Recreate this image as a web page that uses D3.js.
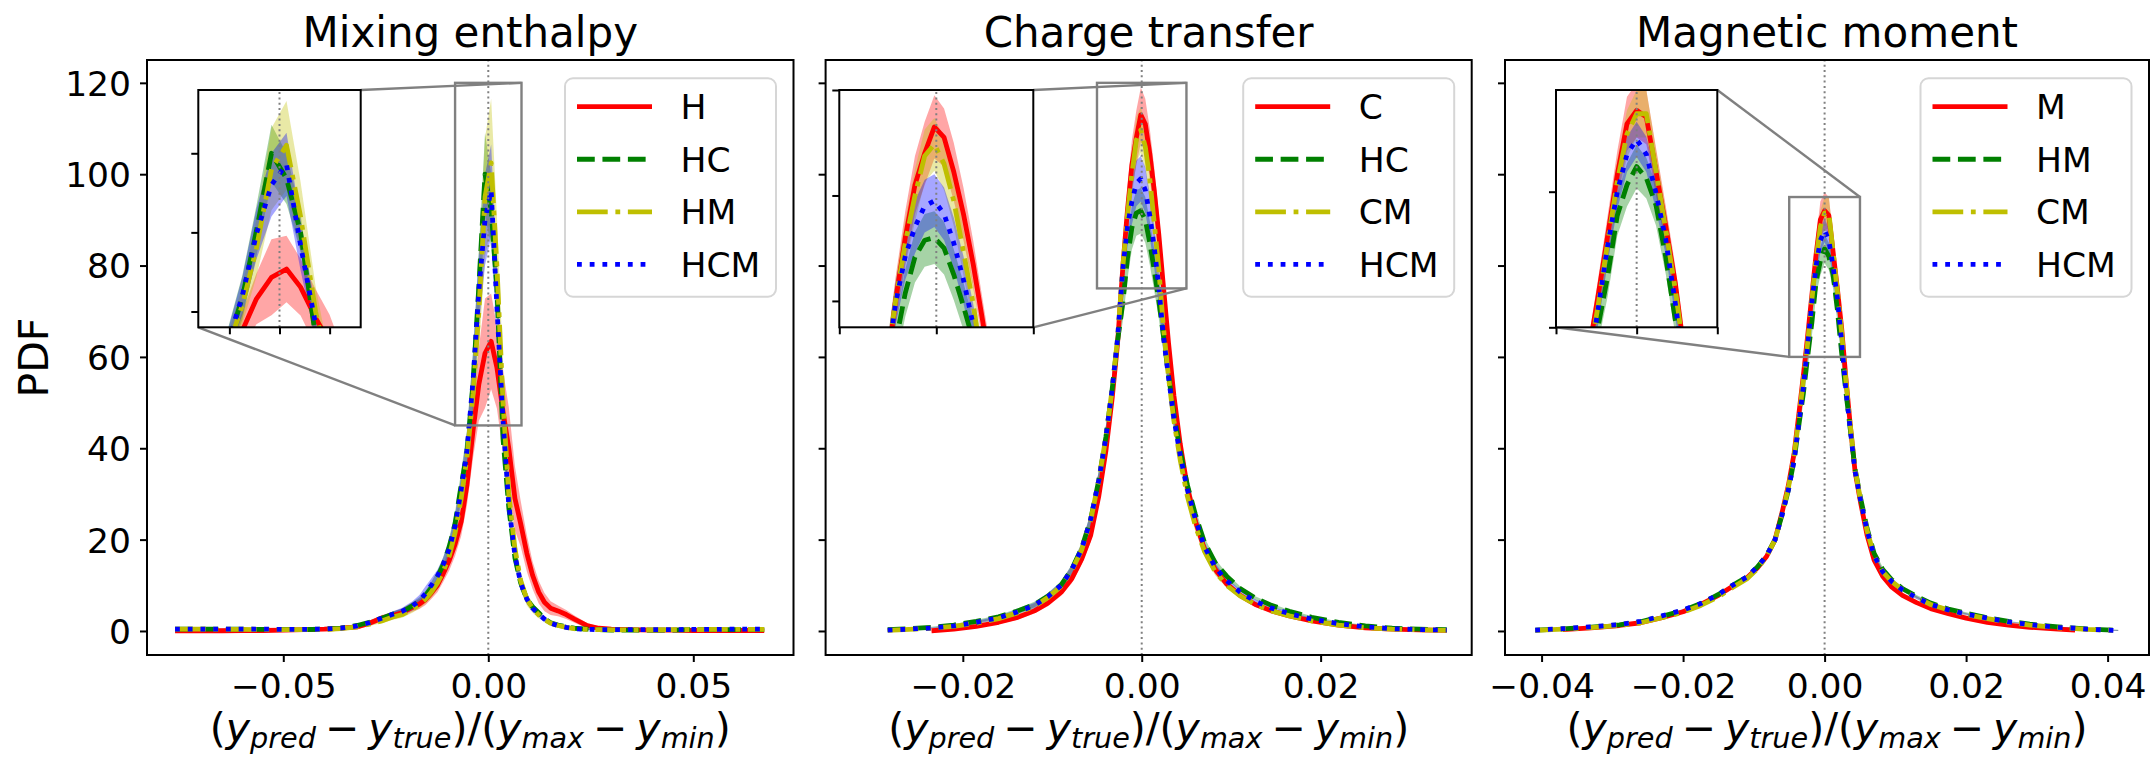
<!DOCTYPE html>
<html><head><meta charset="utf-8">
<script src="https://cdn.jsdelivr.net/npm/d3@7"></script>
<style>
body{margin:0;background:#fff}
svg{display:block}
text{font-family:"DejaVu Sans",sans-serif;fill:#000}
</style></head>
<body><svg id="c" width="2151" height="757"></svg>
<script>
// ---------------- data ----------------
const titles = ["Mixing enthalpy", "Charge transfer", "Magnetic moment"];
const legend_enth = ["H", "HC", "HM", "HCM"];
const legend_chg = ["C", "HC", "CM", "HCM"];
const legend_mag = ["M", "HM", "CM", "HCM"];
const yTicks = [0, 20, 40, 60, 80, 100, 120];
const xticks_enth = [-0.05, 0, 0.05];
const xticks_chg = [-0.02, 0, 0.02];
const xticks_mag = [-0.04, -0.02, 0, 0.02, 0.04];

// Mixing enthalpy
const x_enth = [-0.0764,-0.070,-0.065,-0.060,-0.055,-0.050,-0.045,-0.040,-0.036,-0.032,-0.029,-0.026,-0.0235,-0.021,-0.0185,-0.0168,-0.0153,-0.0139,-0.0124,-0.0110,-0.0095,-0.0081,-0.0066,-0.0052,-0.0037,-0.0023,-0.0008,0.0007,0.0021,0.0036,0.0050,0.0065,0.0079,0.0094,0.0108,0.0123,0.0137,0.0152,0.0170,0.019,0.021,0.024,0.027,0.030,0.034,0.040,0.045,0.050,0.055,0.060,0.0673];
const enth_H = [0.0,0.05,0.05,0.1,0.1,0.2,0.3,0.4,0.6,0.9,1.7,2.8,3.3,4.0,5.2,5.9,6.9,8.3,10,12.5,15.5,19,24,32,44,54,60.8,63.4,57.7,48,40,29,23.5,17,12.2,8.5,6.3,5.0,4.4,3.6,2.6,1.2,0.6,0.4,0.3,0.2,0.2,0.1,0.1,0.1,0.1];
const enth_H_sd = [0.1,0.1,0.1,0.1,0.1,0.15,0.2,0.3,0.4,0.5,0.6,0.7,0.8,0.9,1.0,1.1,1.2,1.3,1.5,1.8,2.2,2.6,3.2,4.5,6,8,12,10.5,9,9,9,7,5,4,3,2.5,2,1.5,1.2,1,0.8,0.6,0.4,0.3,0.2,0.1,0.1,0.1,0.1,0.1,0.1];
const enth_HC = [0.4,0.4,0.4,0.4,0.35,0.35,0.3,0.4,0.6,1.2,1.9,2.8,3.6,4.2,5.5,6.5,7.8,9.5,11.8,14.5,18.5,23.5,32,39,54.5,75.5,100,92,75,42,27,16,10.5,7,5.3,4.0,2.7,1.8,1.3,0.9,0.6,0.4,0.3,0.2,0.2,0.2,0.2,0.3,0.3,0.3,0.3];
const enth_HC_sd = [0.1,0.1,0.1,0.1,0.1,0.1,0.1,0.15,0.2,0.3,0.4,0.5,0.6,0.7,0.8,0.9,1.0,1.2,1.4,1.6,2.0,2.5,3,5,7,8,9,8,6,4,3,2.2,1.5,1,0.8,0.6,0.5,0.4,0.3,0.2,0.2,0.15,0.1,0.1,0.1,0.1,0.1,0.1,0.1,0.1,0.1];
const enth_HM = [0.4,0.4,0.35,0.35,0.3,0.3,0.3,0.3,0.5,0.9,1.5,2.2,3.0,3.6,4.8,5.8,7.0,8.5,10.5,13,16.5,21.5,29,38,52,70,95,102.5,80,50,30,18,11,7,5,3.5,2.5,1.7,1.2,0.8,0.5,0.35,0.3,0.25,0.25,0.25,0.3,0.3,0.35,0.35,0.35];
const enth_HM_sd = [0.1,0.1,0.1,0.1,0.1,0.1,0.1,0.15,0.2,0.3,0.4,0.5,0.6,0.7,0.8,0.9,1.0,1.2,1.4,1.6,2.0,2.5,3,4,6,9,13,14,11,8,5,3,2,1.4,1,0.7,0.5,0.4,0.3,0.2,0.2,0.15,0.1,0.1,0.1,0.1,0.1,0.1,0.1,0.1,0.1];
const enth_HCM = [0.4,0.4,0.4,0.4,0.4,0.35,0.35,0.4,0.6,1.1,1.8,2.8,3.6,4.3,5.5,6.6,8.2,10,12,14.5,18,23,31,39.5,55,74.5,90,96.5,71,46,27.5,16.5,10.5,7,5,3.7,2.6,1.7,1.2,0.8,0.5,0.35,0.3,0.3,0.3,0.3,0.3,0.35,0.35,0.4,0.4];
const enth_HCM_sd = [0.1,0.1,0.1,0.1,0.1,0.1,0.1,0.15,0.2,0.3,0.4,0.5,0.6,0.8,1.0,1.3,1.6,1.5,1.4,1.6,2.0,2.5,3,4,6,8,10,10,8,5,3,2,1.5,1,0.8,0.6,0.5,0.4,0.3,0.2,0.2,0.15,0.1,0.1,0.1,0.1,0.1,0.1,0.1,0.1,0.1];

// Charge transfer
const x_chg = [-0.0284,-0.026,-0.0235,-0.021,-0.0185,-0.016,-0.014,-0.012,-0.0105,-0.009,-0.0078,-0.0067,-0.0057,-0.0048,-0.0040,-0.0033,-0.0027,-0.0021,-0.0016,-0.0011,-0.0006,-0.0001,0.0004,0.0009,0.0014,0.0019,0.0024,0.0030,0.0036,0.0043,0.0051,0.006,0.007,0.0082,0.0095,0.011,0.0127,0.0145,0.0165,0.019,0.022,0.025,0.028,0.031,0.0341];
const chg_C = [null,null,0.05,0.4,1.0,1.9,2.9,4.4,6.1,8.5,11.5,15.8,21,29.5,39.5,51,63,80,92,102,108,113,111,104.5,96.5,87,76,63,51.5,41,31.5,24,18,13.5,10.3,7.8,5.8,4.4,3.3,2.2,1.3,0.7,0.4,0.25,0.15];
const chg_C_sd = [0,0,0.1,0.2,0.3,0.4,0.5,0.6,0.7,0.8,1.0,1.2,1.5,2,2.5,3,3.5,4.5,5,5.5,6,6,5.5,5.5,5,4.5,4,3.5,3,2.5,2,1.6,1.2,1,0.8,0.6,0.5,0.4,0.3,0.3,0.2,0.2,0.1,0.1,0.1];
const chg_HC = [0.3,0.5,0.8,1.3,2.1,3.1,4.3,5.8,7.6,10.1,13.6,18.2,24.5,33,42.5,53,63.5,72,81.5,88.3,91.5,92,90,85,79,72.5,65,56,47.5,39.5,32,25.5,19.5,15,12,9.3,7.2,5.6,4.3,3.0,1.9,1.1,0.6,0.4,0.3];
const chg_HC_sd = [0.1,0.1,0.1,0.2,0.3,0.4,0.5,0.6,0.7,0.8,1.0,1.2,1.5,2,2.5,3,3.5,4,4.5,4.8,5,5,5,4.8,4.5,4,3.5,3,2.5,2,1.6,1.3,1,0.8,0.6,0.5,0.4,0.4,0.3,0.3,0.2,0.2,0.1,0.1,0.1];
const chg_CM = [0.15,0.35,0.6,1.0,1.7,2.7,3.9,5.4,7.3,9.8,13.3,17.8,24.3,33,42.5,53,64,80,91,100,107.5,109.7,106,99,89.3,79.5,67,55.5,46,37.5,29.5,23,17.5,13,10,7.7,5.8,4.4,3.3,2.2,1.3,0.7,0.4,0.25,0.15];
const chg_CM_sd = [0.1,0.1,0.1,0.2,0.3,0.4,0.5,0.6,0.7,0.8,1.0,1.2,1.5,2,2.5,3,3.5,4,4.5,5,5,5,5,4.8,4.5,4,3.5,3,2.5,2,1.6,1.3,1,0.8,0.6,0.5,0.4,0.4,0.3,0.3,0.2,0.2,0.1,0.1,0.1];
const chg_HCM = [0.2,0.4,0.65,1.1,1.9,2.9,4.1,5.6,7.5,10,13.5,18,24.5,33,42.5,53,64,79.5,88.5,94,98,99,96.5,91,84,75.5,65,55.5,46.5,38.5,31,24.5,18.5,14,11,8.5,6.5,5.0,3.8,2.6,1.6,0.9,0.5,0.3,0.2];
const chg_HCM_sd = [0.1,0.1,0.1,0.2,0.3,0.4,0.5,0.6,0.7,0.8,1.0,1.2,1.5,2,2.5,3,3.5,4,4.5,5,5,5,5,4.8,4.5,4,3.5,3,2.5,2,1.6,1.3,1,0.8,0.6,0.5,0.4,0.4,0.3,0.3,0.2,0.2,0.1,0.1,0.1];

// Magnetic moment
const x_mag = [-0.0409,-0.037,-0.033,-0.029,-0.026,-0.023,-0.020,-0.0175,-0.015,-0.013,-0.011,-0.0095,-0.0082,-0.007,-0.006,-0.0051,-0.0043,-0.0036,-0.0030,-0.0024,-0.0018,-0.0012,-0.0006,0.0000,0.0006,0.0012,0.0018,0.0024,0.0030,0.0036,0.0043,0.0051,0.006,0.007,0.0082,0.0095,0.011,0.013,0.015,0.0175,0.020,0.023,0.026,0.029,0.033,0.0354,0.037,0.0415];
const mag_M = [null,0.3,0.7,1.2,1.8,2.9,4.2,5.8,7.8,9.8,11.6,13.8,16.3,20,26,32,39,48,56,64.5,73.5,82.5,90,92,91,83,75,66.5,55.5,45.5,35,28,21,15.5,12,9.6,7.8,6.2,4.9,3.8,2.8,1.9,1.3,0.8,0.4,0.2,null,null];
const mag_M_sd = [0,0.1,0.1,0.1,0.1,0.15,0.2,0.2,0.25,0.3,0.35,0.4,0.5,0.6,0.8,1,1.2,1.5,2,2.5,3,3.5,4,4,4,3.5,3,2.5,2,1.5,1.2,1,0.8,0.6,0.5,0.4,0.35,0.3,0.25,0.2,0.2,0.15,0.1,0.1,0.1,0.1,0,0];
const mag_HM = [0.2,0.45,0.85,1.35,2.0,3.2,4.5,6.0,8.0,10.0,11.8,14.0,16.5,20,25.5,31,37.5,45.5,52,60,67.5,76.5,81,83.7,82,78,70.4,61,52.5,44.5,35.5,29,22.5,17,13.5,11.2,9.3,7.6,6.1,4.8,3.9,2.9,2.1,1.5,0.9,0.6,0.45,0.15];
const mag_HM_sd = [0.1,0.1,0.1,0.1,0.1,0.15,0.2,0.2,0.25,0.3,0.35,0.4,0.5,0.6,0.8,1,1.2,1.5,2,2.5,3,3,3.2,3.2,3,3,2.5,2.2,2,1.5,1.2,1,0.8,0.6,0.5,0.4,0.35,0.3,0.25,0.2,0.2,0.15,0.1,0.1,0.1,0.1,0.1,0.1];
const mag_CM = [0.15,0.4,0.75,1.2,1.8,2.9,4.1,5.6,7.5,9.5,11.4,13.6,16.3,20,25.5,31.5,38.5,47,55,63,72.5,81.5,88.5,91.5,91.5,83,74.5,65.5,55,45.5,35.5,28.5,22,16.5,13,10.8,9,7.3,5.8,4.6,3.6,2.7,1.9,1.3,0.7,0.5,0.35,0.1];
const mag_CM_sd = [0.1,0.1,0.1,0.1,0.1,0.15,0.2,0.2,0.25,0.3,0.35,0.4,0.5,0.6,0.8,1,1.2,1.5,2,2.5,3,3.2,3.5,3.5,3.5,3.2,3,2.5,2,1.5,1.2,1,0.8,0.6,0.5,0.4,0.35,0.3,0.25,0.2,0.2,0.15,0.1,0.1,0.1,0.1,0.1,0.1];
const mag_HCM = [0.2,0.5,0.9,1.4,2.1,3.3,4.6,6.0,8.0,10.0,11.8,14.0,16.5,20,25.5,31,37.5,46,53.5,62.5,72,80,85.5,87.7,85.5,79.8,73,63.5,53,44.5,35,28.5,22,16.5,13,10.8,9,7.3,5.8,4.6,3.7,2.8,2.0,1.4,0.8,0.6,0.4,0.1];
const mag_HCM_sd = [0.1,0.1,0.1,0.1,0.1,0.15,0.2,0.2,0.25,0.3,0.35,0.4,0.5,0.6,0.8,1,1.2,1.5,2,2.3,2.5,2.6,2.6,2.6,2.6,2.5,2.3,2,1.8,1.5,1.2,1,0.8,0.6,0.5,0.4,0.35,0.3,0.25,0.2,0.2,0.15,0.1,0.1,0.1,0.1,0.1,0.1];

// inset (zoom) windows
const inset_enth_x = [-0.0081, 0.0081], inset_enth_y = [45, 120];
const inset_chg_x = [-0.005, 0.005], inset_chg_y = [75, 120];
const inset_mag_x = [-0.005, 0.005], inset_mag_y = [60, 95];
const inset_enth_yticks = [50, 75, 100];
const inset_chg_yticks = [80, 100, 120];
const inset_mag_yticks = [60, 80];
const inset_xticks = [-0.005, 0, 0.005];

// ---------------- styles / layout ----------------
const LW = 4.8;
const styles = [
  {color: "#ff0000", dash: null},
  {color: "#008000", dash: [3.7*LW, 1.6*LW].join(",")},
  {color: "#bfbf00", dash: [6.4*LW, 1.6*LW, 1*LW, 1.6*LW].join(",")},
  {color: "#0000ff", dash: [1*LW, 1.65*LW].join(",")}
];
const FILL_OP = 0.35;
const TOP = 60, BOTTOM = 655;
const YDOM = [-5.26, 125];
const TICK_FS = 34.5, LABEL_FS = 41, TITLE_FS = 42;

const panels = [
  {title: titles[0], labels: legend_enth, x: x_enth, xticks: xticks_enth,
   series: [[enth_H, enth_H_sd],[enth_HC, enth_HC_sd],[enth_HM, enth_HM_sd],[enth_HCM, enth_HCM_sd]],
   left: 147, right: 793.5, xdom: [-0.08324, 0.07444], ylabels: true,
   inset: {l: 198.3, r: 360.7, t: 90, b: 327.3, xr: inset_enth_x, yr: inset_enth_y, yt: inset_enth_yticks, conn: [["r","t"],["l","b"]]}},
  {title: titles[1], labels: legend_chg, x: x_chg, xticks: xticks_chg,
   series: [[chg_C, chg_C_sd],[chg_HC, chg_HC_sd],[chg_CM, chg_CM_sd],[chg_HCM, chg_HCM_sd]],
   left: 825.6, right: 1471.7, xdom: [-0.03534, 0.03689], ylabels: false,
   inset: {l: 839.3, r: 1033.3, t: 90, b: 327.3, xr: inset_chg_x, yr: inset_chg_y, yt: inset_chg_yticks, conn: [["r","t"],["r","b"]]}},
  {title: titles[2], labels: legend_mag, x: x_mag, xticks: xticks_mag,
   series: [[mag_M, mag_M_sd],[mag_HM, mag_HM_sd],[mag_CM, mag_CM_sd],[mag_HCM, mag_HCM_sd]],
   left: 1505, right: 2149, xdom: [-0.04517, 0.04585], ylabels: false,
   inset: {l: 1556, r: 1717.3, t: 90, b: 327.3, xr: inset_mag_x, yr: inset_mag_y, yt: inset_mag_yticks, conn: [["r","t"],["l","b"]]}}
];

const svg = d3.select("#c");
const defs = svg.append("defs");
const fmt = d3.format(".2f");

function drawData(g, xs, ys, xv, series) {
  series.forEach((s, i) => {
    const pts = xv.map((x, j) => ({x, m: s[0][j], sd: s[1][j]}));
    const area = d3.area().defined(d => d.m != null)
      .x(d => xs(d.x)).y0(d => ys(d.m - d.sd)).y1(d => ys(d.m + d.sd));
    g.append("path").attr("d", area(pts)).attr("fill", styles[i].color).attr("fill-opacity", FILL_OP);
  });
  series.forEach((s, i) => {
    const pts = xv.map((x, j) => ({x, m: s[0][j]}));
    const line = d3.line().defined(d => d.m != null).x(d => xs(d.x)).y(d => ys(d.m));
    const p = g.append("path").attr("d", line(pts)).attr("fill", "none")
      .attr("stroke", styles[i].color).attr("stroke-width", LW)
      .attr("stroke-linejoin", "round");
    if (styles[i].dash) p.attr("stroke-dasharray", styles[i].dash);
  });
  // zero line
  g.append("line").attr("x1", xs(0)).attr("x2", xs(0))
    .attr("y1", ys.range()[0]).attr("y2", ys.range()[1])
    .attr("stroke", "#808080").attr("stroke-width", 2).attr("stroke-dasharray", "2,3.3");
}

function styleTicks(sel) {
  sel.select(".domain").remove();
  sel.selectAll(".tick line").attr("stroke", "#000").attr("stroke-width", 2);
}

panels.forEach((P, pi) => {
  const xs = d3.scaleLinear().domain(P.xdom).range([P.left, P.right]);
  const ys = d3.scaleLinear().domain(YDOM).range([BOTTOM, TOP]);
  const g = svg.append("g");

  // clip
  defs.append("clipPath").attr("id", "clipm" + pi).append("rect")
    .attr("x", P.left).attr("y", TOP).attr("width", P.right - P.left).attr("height", BOTTOM - TOP);
  const gd = g.append("g").attr("clip-path", `url(#clipm${pi})`);
  drawData(gd, xs, ys, P.x, P.series);

  // axes
  const ax = d3.axisBottom(xs).tickValues(P.xticks).tickSize(7).tickFormat(d => fmt(d));
  const gx = g.append("g").attr("transform", `translate(0,${BOTTOM})`).call(ax);
  styleTicks(gx);
  gx.selectAll(".tick text").attr("y", 43).attr("dy", 0)
    .style("font-size", TICK_FS + "px").style("font-family", "DejaVu Sans");

  const ay = d3.axisLeft(ys).tickValues(yTicks).tickSize(7).tickPadding(9);
  const gy = g.append("g").attr("transform", `translate(${P.left},0)`).call(ay);
  styleTicks(gy);
  if (P.ylabels) {
    gy.selectAll(".tick text").attr("dy", "0.36em")
      .style("font-size", TICK_FS + "px").style("font-family", "DejaVu Sans");
  } else {
    gy.selectAll(".tick text").remove();
  }

  g.append("rect").attr("x", P.left).attr("y", TOP).attr("width", P.right - P.left)
    .attr("height", BOTTOM - TOP).attr("fill", "none").attr("stroke", "#000").attr("stroke-width", 2);

  // title
  g.append("text").attr("x", (P.left + P.right) / 2).attr("y", 46.7)
    .attr("text-anchor", "middle").style("font-size", TITLE_FS + "px").text(P.title);

  // x label (math style)
  const xl = g.append("text").attr("x", (P.left + P.right) / 2).attr("y", 742)
    .attr("text-anchor", "middle").style("font-size", LABEL_FS + "px");
  const parts = [["(", "n"], ["y", "i"], ["pred", "s"], ["−", "m"], ["y", "i"], ["true", "s"],
                 [")/(", "n"], ["y", "i"], ["max", "s"], ["−", "m"], ["y", "i"], ["min", "s"], [")", "n"]];
  const SUB = 6;
  let sub = false;
  parts.forEach(([t, k], idx) => {
    const ts = xl.append("tspan").text(t);
    let dy = 0;
    if (k === "s") { ts.style("font-style", "italic").style("font-size", (LABEL_FS * 0.7) + "px"); dy = SUB; sub = true; }
    else { if (sub) { dy = -SUB; sub = false; } }
    if (k === "i") ts.style("font-style", "italic");
    if (k === "m") ts.attr("dx", 9);
    if (idx > 0 && parts[idx - 1][1] === "m") ts.attr("dx", 9);
    if (dy) ts.attr("dy", dy);
  });

  // zoom rectangle + connectors
  const I = P.inset;
  const rx0 = xs(I.xr[0]), rx1 = xs(I.xr[1]), ry0 = ys(I.yr[1]), ry1 = ys(I.yr[0]);
  g.append("rect").attr("x", rx0).attr("y", ry0).attr("width", rx1 - rx0).attr("height", ry1 - ry0)
    .attr("fill", "none").attr("stroke", "#808080").attr("stroke-width", 2.4);
  I.conn.forEach(([h, v]) => {
    g.append("line")
      .attr("x1", h === "r" ? I.r : I.l).attr("y1", v === "t" ? I.t : I.b)
      .attr("x2", h === "r" ? rx1 : rx0).attr("y2", v === "t" ? ry0 : ry1)
      .attr("stroke", "#808080").attr("stroke-width", 2.4);
  });

  // inset
  const ixs = d3.scaleLinear().domain(I.xr).range([I.l, I.r]);
  const iys = d3.scaleLinear().domain(I.yr).range([I.b, I.t]);
  const gi = g.append("g");
  gi.append("rect").attr("x", I.l).attr("y", I.t).attr("width", I.r - I.l).attr("height", I.b - I.t).attr("fill", "#fff");
  defs.append("clipPath").attr("id", "clipi" + pi).append("rect")
    .attr("x", I.l).attr("y", I.t).attr("width", I.r - I.l).attr("height", I.b - I.t);
  const gid = gi.append("g").attr("clip-path", `url(#clipi${pi})`);
  drawData(gid, ixs, iys, P.x, P.series);
  const gix = gi.append("g").attr("transform", `translate(0,${I.b})`)
    .call(d3.axisBottom(ixs).tickValues(inset_xticks).tickSize(7));
  styleTicks(gix);
  gix.selectAll(".tick text").remove();
  const giy = gi.append("g").attr("transform", `translate(${I.l},0)`)
    .call(d3.axisLeft(iys).tickValues(I.yt).tickSize(7));
  styleTicks(giy);
  giy.selectAll(".tick text").remove();
  gi.append("rect").attr("x", I.l).attr("y", I.t).attr("width", I.r - I.l).attr("height", I.b - I.t)
    .attr("fill", "none").attr("stroke", "#000").attr("stroke-width", 2);

  // legend
  const LWd = 211, LH = 218.4;
  const lg = g.append("g").attr("transform", `translate(${P.right - 17.5 - LWd},78.3)`);
  lg.append("rect").attr("width", LWd).attr("height", LH).attr("rx", 8)
    .attr("fill", "#fff").attr("fill-opacity", 0.8).attr("stroke", "#d6d6d6").attr("stroke-width", 2);
  P.labels.forEach((lab, i) => {
    const yy = 28.4 + i * 52.55;
    const ln = lg.append("line").attr("x1", 12).attr("x2", 87).attr("y1", yy).attr("y2", yy)
      .attr("stroke", styles[i].color).attr("stroke-width", LW);
    if (styles[i].dash) ln.attr("stroke-dasharray", styles[i].dash);
    lg.append("text").attr("x", 115.5).attr("y", yy + 12.5).style("font-size", TICK_FS + "px").text(lab);
  });
});

// y label
svg.append("text").attr("transform", "translate(47.5,357.5) rotate(-90)")
  .attr("text-anchor", "middle").style("font-size", LABEL_FS + "px").text("PDF");
</script>
</body></html>
